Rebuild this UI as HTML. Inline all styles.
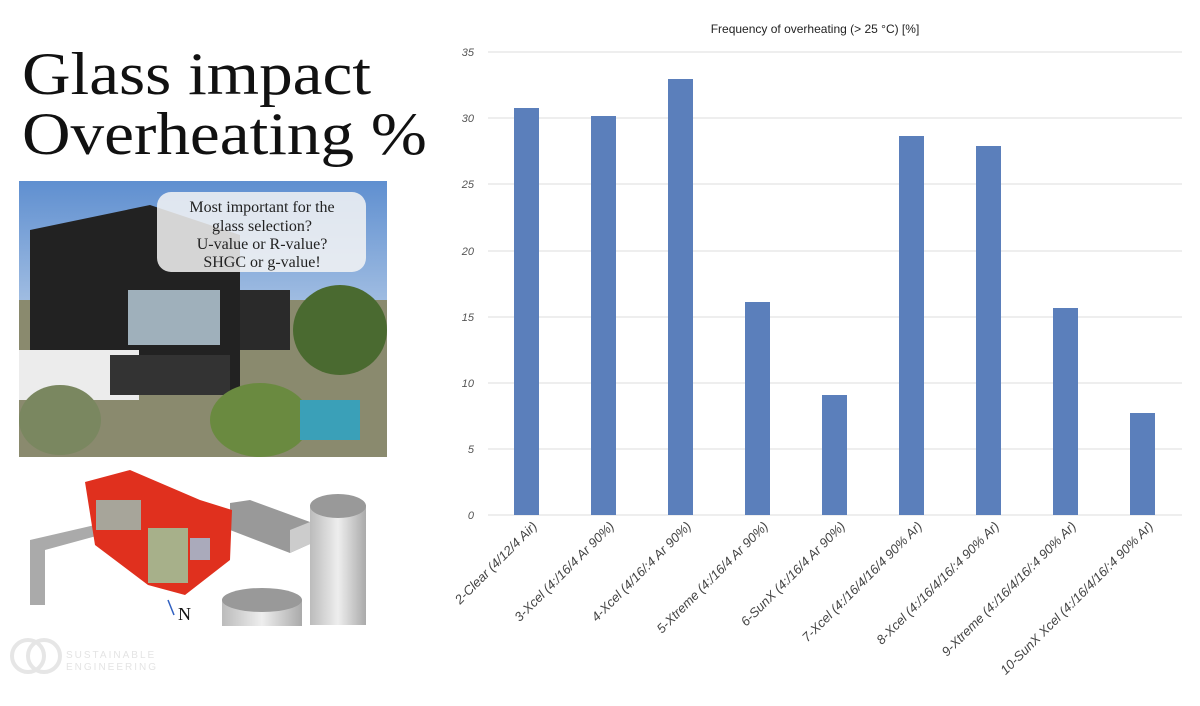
<!DOCTYPE html>
<html><head><meta charset="utf-8"><style>
body{margin:0;width:1200px;height:706px;background:#fff;overflow:hidden;position:relative;font-family:"Liberation Sans",sans-serif}
.t{position:absolute;left:22px;font-family:"Liberation Serif",serif;font-size:60px;color:#111;line-height:60px;transform:scaleX(1.12);transform-origin:0 0;white-space:nowrap}
</style></head><body>
<div class="t" style="top:44px">Glass impact</div>
<div class="t" style="top:104px">Overheating %</div>
<svg width="1200" height="706" style="position:absolute;left:0;top:0">
<defs>
<linearGradient id="sky" x1="0" y1="0" x2="0" y2="1"><stop offset="0" stop-color="#5f8fd0"/><stop offset="0.5" stop-color="#a9c3e4"/><stop offset="1" stop-color="#c8d6e2"/></linearGradient>
<linearGradient id="cyl" x1="0" y1="0" x2="1" y2="0"><stop offset="0" stop-color="#bbb"/><stop offset="0.5" stop-color="#eee"/><stop offset="1" stop-color="#aaa"/></linearGradient>
</defs>
<rect x="19" y="181" width="368" height="276" fill="url(#sky)"/>
<rect x="19" y="300" width="368" height="157" fill="#8a8a6e"/>
<polygon points="30,230 150,205 240,235 240,395 30,395" fill="#222"/>
<rect x="240" y="290" width="50" height="60" fill="#2a2a2a"/>
<rect x="128" y="290" width="92" height="55" fill="#9fb0bb"/>
<rect x="19" y="350" width="120" height="50" fill="#ececec"/>
<rect x="110" y="355" width="120" height="40" fill="#333"/>
<ellipse cx="340" cy="330" rx="47" ry="45" fill="#4a6a30"/>
<ellipse cx="260" cy="420" rx="50" ry="37" fill="#6a8a40"/>
<ellipse cx="60" cy="420" rx="41" ry="35" fill="#7a8760"/>
<rect x="300" y="400" width="60" height="40" fill="#3aa0b8"/>
<rect x="157" y="192" width="209" height="80" rx="14" fill="#f4f4f4" opacity="0.85"/>
<text font-family="Liberation Serif,serif" font-size="16" fill="#222" text-anchor="middle"><tspan x="262" y="212">Most important for the</tspan><tspan x="262" y="231">glass selection?</tspan><tspan x="262" y="249">U-value or R-value?</tspan><tspan x="262" y="267">SHGC or g-value!</tspan></text>
<polygon points="30,540 95,525 100,535 45,550 45,605 30,605" fill="#aaa"/>
<polygon points="230,503 250,500 310,522 310,544 290,553 230,530" fill="#999"/>
<polygon points="290,553 310,544 310,522 290,530" fill="#ccc"/>
<rect x="310" y="505" width="56" height="120" fill="url(#cyl)"/>
<ellipse cx="338" cy="506" rx="28" ry="12" fill="#999"/>
<rect x="222" y="600" width="80" height="26" fill="url(#cyl)"/>
<ellipse cx="262" cy="600" rx="40" ry="12" fill="#999"/>
<polygon points="85,482 130,470 200,500 232,510 230,560 185,595 148,585 95,545" fill="#e0301e"/>
<rect x="96" y="500" width="45" height="30" fill="#a7a59a"/>
<rect x="148" y="528" width="40" height="55" fill="#a7b08a"/>
<rect x="190" y="538" width="20" height="22" fill="#aab"/>
<text x="178" y="620" font-family="Liberation Serif,serif" font-size="18" fill="#111">N</text>
<line x1="168" y1="600" x2="174" y2="615" stroke="#3060c0" stroke-width="1.5"/>
<circle cx="28" cy="656" r="16" fill="none" stroke="#e6e6e6" stroke-width="4"/>
<circle cx="44" cy="656" r="16" fill="none" stroke="#e6e6e6" stroke-width="4"/>
<text x="66" y="658" font-size="10" fill="#e4e4e4" letter-spacing="2">SUSTAINABLE</text>
<text x="66" y="670" font-size="10" fill="#e4e4e4" letter-spacing="2">ENGINEERING</text>
<text x="815" y="33" font-size="12" fill="#222" text-anchor="middle">Frequency of overheating (&gt; 25 °C) [%]</text>
<g stroke="#dcdcdc" stroke-width="1">
<line x1="488" x2="1182" y1="52" y2="52"/><line x1="488" x2="1182" y1="118" y2="118"/><line x1="488" x2="1182" y1="184" y2="184"/><line x1="488" x2="1182" y1="251" y2="251"/><line x1="488" x2="1182" y1="317" y2="317"/><line x1="488" x2="1182" y1="383" y2="383"/><line x1="488" x2="1182" y1="449" y2="449"/><line x1="488" x2="1182" y1="515" y2="515"/>
</g>
<g font-size="11" fill="#555" text-anchor="end" font-style="italic">
<text x="474" y="56">35</text><text x="474" y="122">30</text><text x="474" y="188">25</text><text x="474" y="255">20</text><text x="474" y="321">15</text><text x="474" y="387">10</text><text x="474" y="453">5</text><text x="474" y="519">0</text>
</g>
<g fill="#5b7fbb">
<rect x="514" y="108" width="25" height="407"/>
<rect x="591" y="116" width="25" height="399"/>
<rect x="668" y="79" width="25" height="436"/>
<rect x="745" y="302" width="25" height="213"/>
<rect x="822" y="395" width="25" height="120"/>
<rect x="899" y="136" width="25" height="379"/>
<rect x="976" y="146" width="25" height="369"/>
<rect x="1053" y="308" width="25" height="207"/>
<rect x="1130" y="413" width="25" height="102"/>
</g>
<g font-size="13" fill="#444" text-anchor="end" font-style="italic">
<text transform="translate(538,527) rotate(-45)">2-Clear (4/12/4 Air)</text>
<text transform="translate(615,527) rotate(-45)">3-Xcel (4:/16/4 Ar 90%)</text>
<text transform="translate(692,527) rotate(-45)">4-Xcel (4/16/:4 Ar 90%)</text>
<text transform="translate(769,527) rotate(-45)">5-Xtreme (4:/16/4 Ar 90%)</text>
<text transform="translate(846,527) rotate(-45)">6-SunX (4:/16/4 Ar 90%)</text>
<text transform="translate(923,527) rotate(-45)">7-Xcel (4:/16/4/16/4 90% Ar)</text>
<text transform="translate(1000,527) rotate(-45)">8-Xcel (4:/16/4/16/:4 90% Ar)</text>
<text transform="translate(1077,527) rotate(-45)">9-Xtreme (4:/16/4/16/:4 90% Ar)</text>
<text transform="translate(1154,527) rotate(-45)">10-SunX Xcel (4:/16/4/16/:4 90% Ar)</text>
</g>
</svg>
</body></html>
